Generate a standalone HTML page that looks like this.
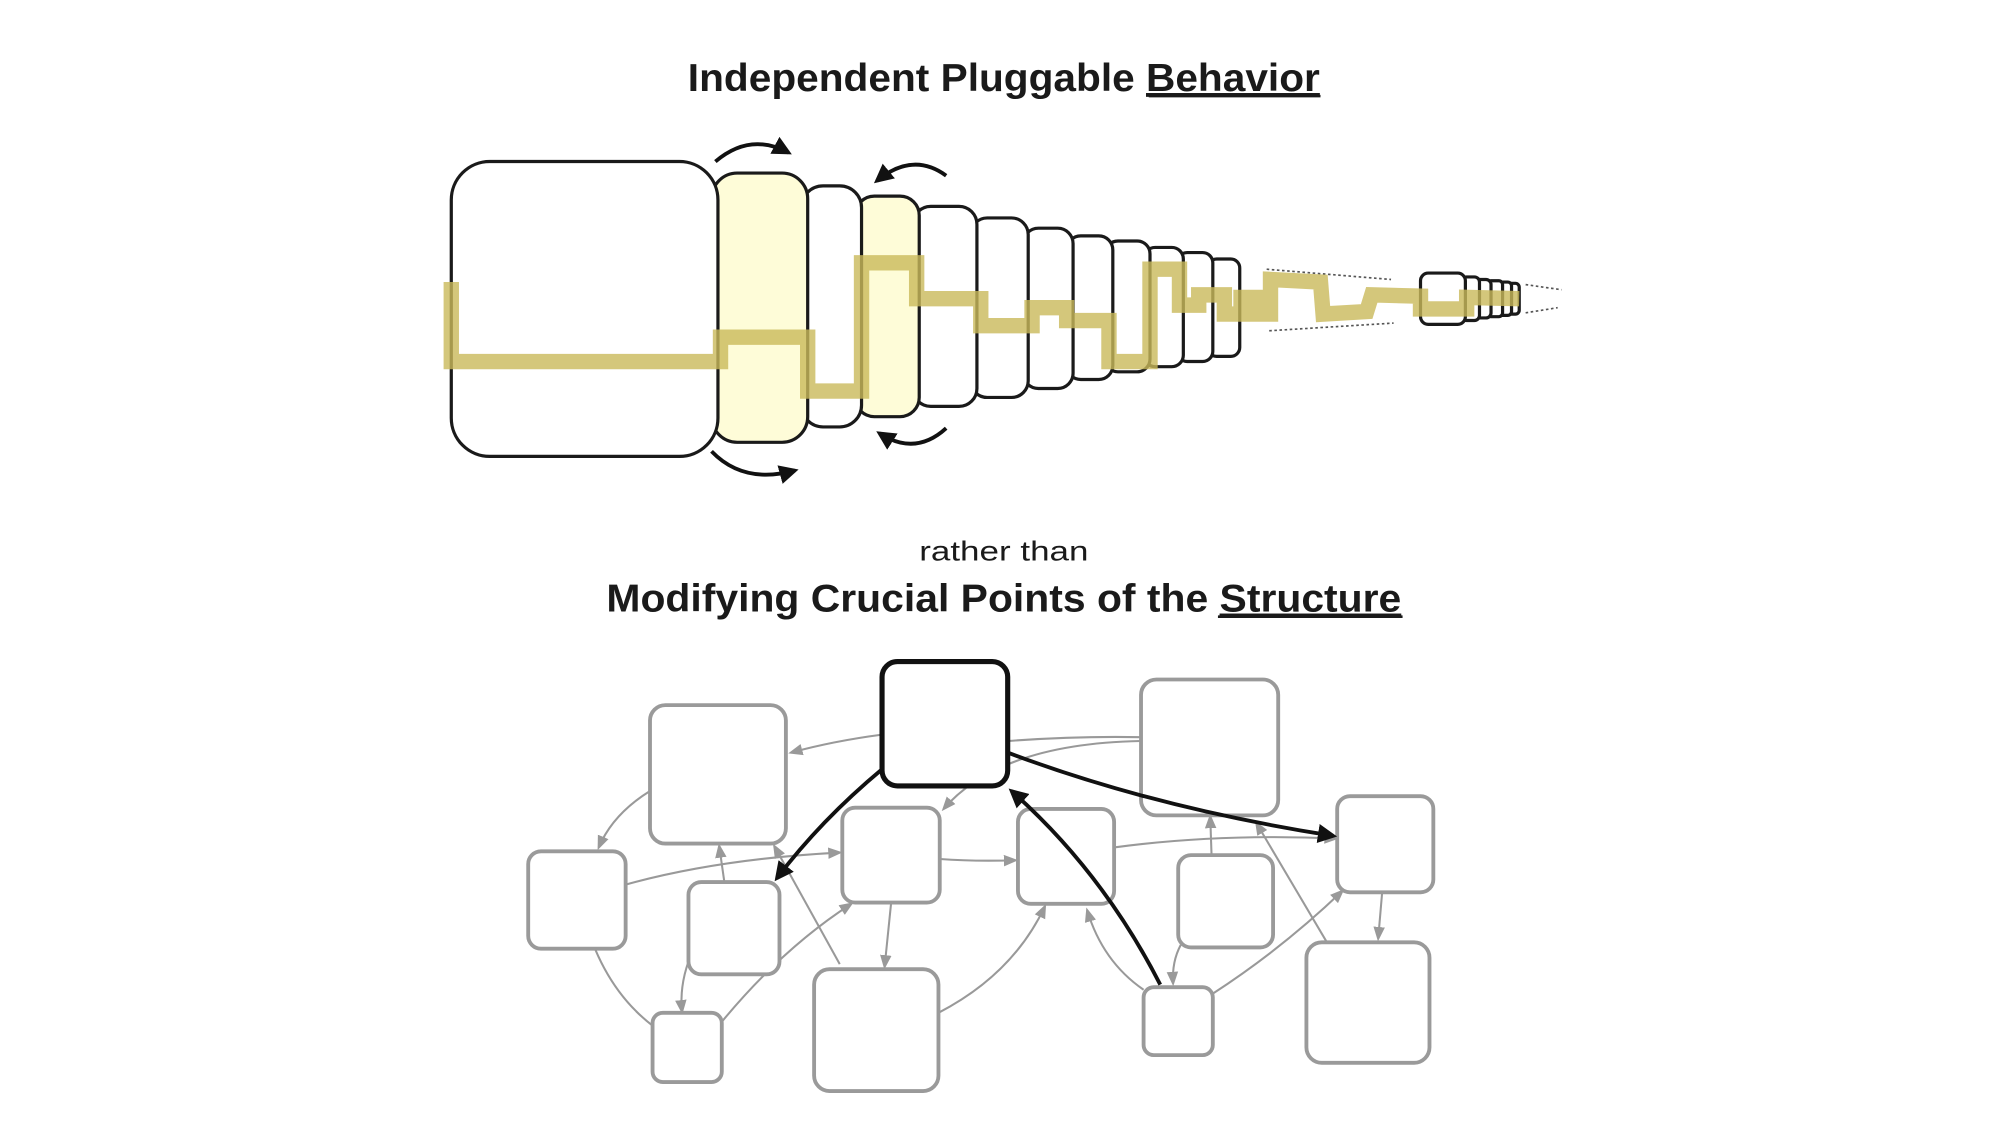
<!DOCTYPE html>
<html><head><meta charset="utf-8"><style>html,body{margin:0;padding:0;background:#fff;}svg{display:block}</style></head>
<body>
<svg width="2000" height="1125" viewBox="0 0 1560 877.5" xmlns="http://www.w3.org/2000/svg">
<defs>
<marker id="ab" viewBox="0 0 10 10" refX="8" refY="5" markerWidth="5" markerHeight="5" orient="auto"><path d="M0,0 L10,5 L0,10 z" fill="#111"/></marker>
<marker id="ag" viewBox="0 0 10 10" refX="8" refY="5" markerWidth="7" markerHeight="7" orient="auto"><path d="M0,1 L10,5 L0,9 z" fill="#999"/></marker>
<marker id="ak" viewBox="0 0 10 10" refX="8" refY="5" markerWidth="5" markerHeight="5" orient="auto"><path d="M0,0 L10,5 L0,10 z" fill="#111"/></marker>
</defs>
<g font-family="Liberation Sans, sans-serif" fill="#1a1a1a" text-anchor="middle">
<text x="783" y="71" font-size="30" font-weight="bold" textLength="493" lengthAdjust="spacingAndGlyphs">Independent Pluggable <tspan text-decoration="underline">Behavior</tspan></text>
<line x1="896" y1="75" x2="1030" y2="75" stroke="#1a1a1a" stroke-width="2"/>
<text x="783" y="437" font-size="22" textLength="132" lengthAdjust="spacingAndGlyphs">rather than</text>
<text x="783" y="477" font-size="30" font-weight="bold" textLength="620" lengthAdjust="spacingAndGlyphs">Modifying Crucial Points of the <tspan text-decoration="underline">Structure</tspan></text>
<line x1="950" y1="481" x2="1094" y2="481" stroke="#1a1a1a" stroke-width="2"/>
</g>
<!-- stack boxes, right to left -->
<g stroke="#1a1a1a" stroke-width="2.5">
<rect x="1175" y="221" width="10" height="24" rx="3" fill="#fff"/>
<rect x="1168" y="220" width="11" height="26" rx="3" fill="#fff"/>
<rect x="1160" y="219" width="12" height="28" rx="3" fill="#fff"/>
<rect x="1150" y="218" width="13" height="30" rx="4" fill="#fff"/>
<rect x="1140" y="216" width="14" height="34" rx="4" fill="#fff"/>
<rect x="1108" y="213" width="35" height="40" rx="6" fill="#fff"/>
<rect x="942" y="202" width="25" height="76" rx="7" fill="#fff"/>
<rect x="918" y="197" width="28" height="85" rx="8" fill="#fff"/>
<rect x="892" y="193" width="31" height="93" rx="9" fill="#fff"/>
<rect x="862" y="188" width="35" height="102" rx="10" fill="#fff"/>
<rect x="832" y="184" width="36" height="112" rx="11" fill="#fff"/>
<rect x="798" y="178" width="39" height="125" rx="12" fill="#fff"/>
<rect x="757" y="170" width="45" height="140" rx="13" fill="#fff"/>
<rect x="712" y="161" width="50" height="156" rx="14" fill="#fff"/>
<rect x="667" y="153" width="50" height="172" rx="15" fill="#fefcd8"/>
<rect x="625" y="145" width="47" height="188" rx="17" fill="#fff"/>
<rect x="555" y="135" width="75" height="210" rx="20" fill="#fefcd8"/>
<rect x="352" y="126" width="208" height="230" rx="30" fill="#fff"/>
</g>
<!-- dotted -->
<g stroke="#555" stroke-width="1.3" stroke-dasharray="2,2" fill="none">
<line x1="988" y1="210" x2="1085" y2="218"/><line x1="990" y1="258" x2="1087" y2="252"/>
<line x1="1190" y1="222" x2="1218" y2="226"/><line x1="1190" y1="244" x2="1215" y2="240"/>
</g>
<!-- yellow path -->
<path d="M352,220 L352,282 L562,282 L562,263 L630,263 L630,305 L672,305 L672,205 L715,205 L715,233 L765,233 L765,254 L805,254 L805,240 L832,240 L832,250 L865,250 L865,282 L897,282 L897,210 L920,210 L920,238 L935,238 L935,230 L955,230 L955,245 L968,245 L968,232 L980,232 L980,245 L991,245 L991,218 L1030,220 L1032,245 L1066,243 L1070,230 L1108,231 L1108,241 L1144,241 L1144,232 L1185,233" fill="none" stroke="#c9b95a" stroke-opacity="0.8" stroke-width="12" stroke-linejoin="miter"/>
<!-- curved arrows -->
<g fill="none" stroke="#111" stroke-width="3">
<path d="M558,126 Q585,103 615,119" marker-end="url(#ab)"/>
<path d="M738,137 Q712,118 684,141" marker-end="url(#ab)"/>
<path d="M555,352 Q580,378 620,367" marker-end="url(#ab)"/>
<path d="M738,334 Q714,356 686,338" marker-end="url(#ab)"/>
</g>
<!-- bottom graph thin arrows -->
<g fill="none" stroke="#999" stroke-width="1.6">
<path d="M688,573 Q650,578 617,587" marker-end="url(#ag)"/>
<path d="M786,578 Q840,574 890,575"/>
<path d="M890,578 Q780,580 736,631" marker-end="url(#ag)"/>
<path d="M507,617 Q478,635 467,661" marker-end="url(#ag)"/>
<path d="M488,690 Q560,670 655,665" marker-end="url(#ag)"/>
<path d="M565,688 L561,660" marker-end="url(#ag)"/>
<path d="M655,752 L604,660" marker-end="url(#ag)"/>
<path d="M733,670 Q760,672 792,671" marker-end="url(#ag)"/>
<path d="M869,661 Q950,650 1042,654" marker-end="url(#ag)"/>
<path d="M695,705 L690,754" marker-end="url(#ag)"/>
<path d="M537,750 Q530,770 532,789" marker-end="url(#ag)"/>
<path d="M509,800 Q470,770 455,713" marker-end="url(#ag)"/>
<path d="M563,797 Q610,740 664,705" marker-end="url(#ag)"/>
<path d="M732,790 Q790,760 815,707" marker-end="url(#ag)"/>
<path d="M892,772 Q860,750 848,710" marker-end="url(#ag)"/>
<path d="M945,667 L944,637" marker-end="url(#ag)"/>
<path d="M921,737 Q914,750 915,767" marker-end="url(#ag)"/>
<path d="M946,775 Q1000,740 1047,695" marker-end="url(#ag)"/>
<path d="M1035,735 L980,642" marker-end="url(#ag)"/>
<path d="M1078,697 L1075,732" marker-end="url(#ag)"/>
</g>
<!-- gray boxes -->
<g fill="#fff" stroke="#9a9a9a" stroke-width="3">
<rect x="507" y="550" width="106" height="108" rx="12"/>
<rect x="890" y="530" width="107" height="106" rx="12"/>
<rect x="412" y="664" width="76" height="76" rx="10"/>
<rect x="537" y="688" width="71" height="72" rx="10"/>
<rect x="657" y="630" width="76" height="74" rx="10"/>
<rect x="794" y="631" width="75" height="74" rx="10"/>
<rect x="919" y="667" width="74" height="72" rx="10"/>
<rect x="1043" y="621" width="75" height="75" rx="10"/>
<rect x="509" y="790" width="54" height="54" rx="8"/>
<rect x="635" y="756" width="97" height="95" rx="12"/>
<rect x="892" y="770" width="54" height="53" rx="8"/>
<rect x="1019" y="735" width="96" height="94" rx="12"/>
</g>
<rect x="688" y="516" width="98" height="97" rx="12" fill="#fff" stroke="#111" stroke-width="4"/>
<!-- thick arrows -->
<g fill="none" stroke="#111" stroke-width="3">
<path d="M688,600 Q640,640 606,685" marker-end="url(#ak)"/>
<path d="M786,587 Q900,630 1040,652" marker-end="url(#ak)"/>
<path d="M905,768 Q860,680 789,617" marker-end="url(#ak)"/>
</g>
</svg>
</body></html>
